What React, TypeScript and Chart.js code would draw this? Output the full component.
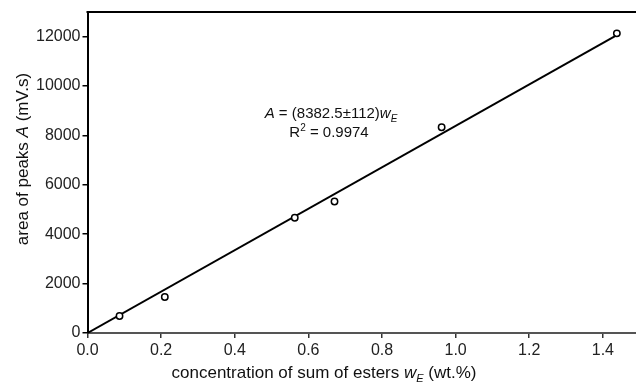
import React, { useEffect, useRef } from "react";
import { Chart, registerables } from "chart.js";

Chart.register(...registerables);

const pointX = [0.087, 0.21, 0.563, 0.671, 0.962, 1.438];
const pointY = [690, 1456, 4668, 5328, 8330, 12135];
const fitX = [0, 1.438];
const fitY = [0, 12060];
const xTickValues = [0, 0.2, 0.4, 0.6, 0.8, 1.0, 1.2, 1.4];
const yTickValues = [0, 2000, 4000, 6000, 8000, 10000, 12000];

const FONT = "'Liberation Sans', Arial, Helvetica, sans-serif";

type Seg = { t: string; it?: boolean; sub?: boolean; sup?: boolean };
const yTitle: Seg[] = [{ t: "area of peaks " }, { t: "A", it: true }, { t: " (mV.s)" }];
const xTitle: Seg[] = [
  { t: "concentration of sum of esters " },
  { t: "w", it: true },
  { t: "E", it: true, sub: true },
  { t: " (wt.%)" },
];
const eqLine1: Seg[] = [
  { t: "A", it: true },
  { t: " = (8382.5±112)" },
  { t: "w", it: true },
  { t: "E", it: true, sub: true },
];
const eqLine2: Seg[] = [{ t: "R" }, { t: "2", sup: true }, { t: " = 0.9974" }];

function segFont(s: Seg, size: number) {
  const sz = s.sub || s.sup ? Math.round(size * 0.65) : size;
  return `${s.it ? "italic " : ""}${sz}px ${FONT}`;
}
function measure(ctx: CanvasRenderingContext2D, segs: Seg[], size: number) {
  let w = 0;
  for (const s of segs) {
    ctx.font = segFont(s, size);
    w += ctx.measureText(s.t).width;
  }
  return w;
}
function drawSegs(ctx: CanvasRenderingContext2D, segs: Seg[], size: number, cx: number, baseline: number) {
  const w = measure(ctx, segs, size);
  let x = cx - w / 2;
  ctx.textAlign = "left";
  ctx.textBaseline = "alphabetic";
  for (const s of segs) {
    ctx.font = segFont(s, size);
    const dy = s.sub ? size * 0.25 : s.sup ? -size * 0.4 : 0;
    ctx.fillText(s.t, x, baseline + dy);
    x += ctx.measureText(s.t).width;
  }
}

const decor = {
  id: "decor",
  afterDraw(chart: any) {
    const ctx = chart.ctx as CanvasRenderingContext2D;
    const a = chart.chartArea;
    ctx.save();
    ctx.strokeStyle = "#000";
    ctx.lineWidth = 2;
    ctx.beginPath();
    ctx.moveTo(a.left - 1, a.top);
    ctx.lineTo(a.right, a.top);
    ctx.stroke();
    ctx.fillStyle = "#111";
    drawSegs(ctx, xTitle, 17, 324, 378);
    ctx.save();
    ctx.translate(28, 159);
    ctx.rotate(-Math.PI / 2);
    drawSegs(ctx, yTitle, 17, 0, 0);
    ctx.restore();
    drawSegs(ctx, eqLine1, 15, 331, 118);
    drawSegs(ctx, eqLine2, 15, 329, 137);
    ctx.restore();
  },
};

export default function App() {
  const ref = useRef<HTMLCanvasElement | null>(null);
  useEffect(() => {
    if (!ref.current) return;
    const chart = new Chart(ref.current, {
      type: "scatter",
      data: {
        datasets: [
          {
            label: "fit",
            type: "line",
            data: fitX.map((x, i) => ({ x, y: fitY[i] })),
            borderColor: "#000",
            borderWidth: 2,
            pointRadius: 0,
            fill: false,
            order: 2,
          } as any,
          {
            label: "data",
            data: pointX.map((x, i) => ({ x, y: pointY[i] })),
            pointRadius: 3.2,
            pointBorderWidth: 1.5,
            pointBorderColor: "#000",
            pointBackgroundColor: "#fff",
            order: 1,
          },
        ],
      },
      options: {
        animation: false,
        responsive: false,
        layout: { autoPadding: false, padding: { top: 12, right: 0, left: 0, bottom: 0 } },
        plugins: { legend: { display: false }, tooltip: { enabled: false } },
        scales: {
          x: {
            type: "linear",
            min: 0,
            max: 1.49,
            ticks: {
              font: { family: FONT, size: 16 },
              color: "#222",
              padding: 3,
              callback: (v: any) => Number(v).toFixed(1),
              maxRotation: 0,
              autoSkip: false,
            },
            afterBuildTicks: (s: any) => {
              s.ticks = xTickValues.map((v) => ({ value: v }));
            },
            afterFit: (s: any) => {
              s.height = 49;
            },
            grid: { drawOnChartArea: false, drawTicks: true, tickLength: 5, color: "#333", lineWidth: 1.5 },
            border: { display: true, color: "#555", width: 2 },
          },
          y: {
            type: "linear",
            min: 0,
            max: 13000,
            ticks: {
              font: { family: FONT, size: 16 },
              color: "#222",
              padding: 2,
              callback: (v: any) => String(v),
              autoSkip: false,
            },
            afterBuildTicks: (s: any) => {
              s.ticks = yTickValues.map((v) => ({ value: v }));
            },
            afterFit: (s: any) => {
              s.width = 87.5;
            },
            grid: { drawOnChartArea: false, drawTicks: true, tickLength: 5, color: "#000", lineWidth: 1.5 },
            border: { display: true, color: "#000", width: 2 },
          },
        },
      },
      plugins: [decor],
    });
    return () => chart.destroy();
  }, []);
  return (
    <div style={{ position: "fixed", left: 0, top: 0, width: 636, height: 382, background: "#fff" }}>
      <canvas ref={ref} width={636} height={382} style={{ width: 636, height: 382 }} />
    </div>
  );
}
